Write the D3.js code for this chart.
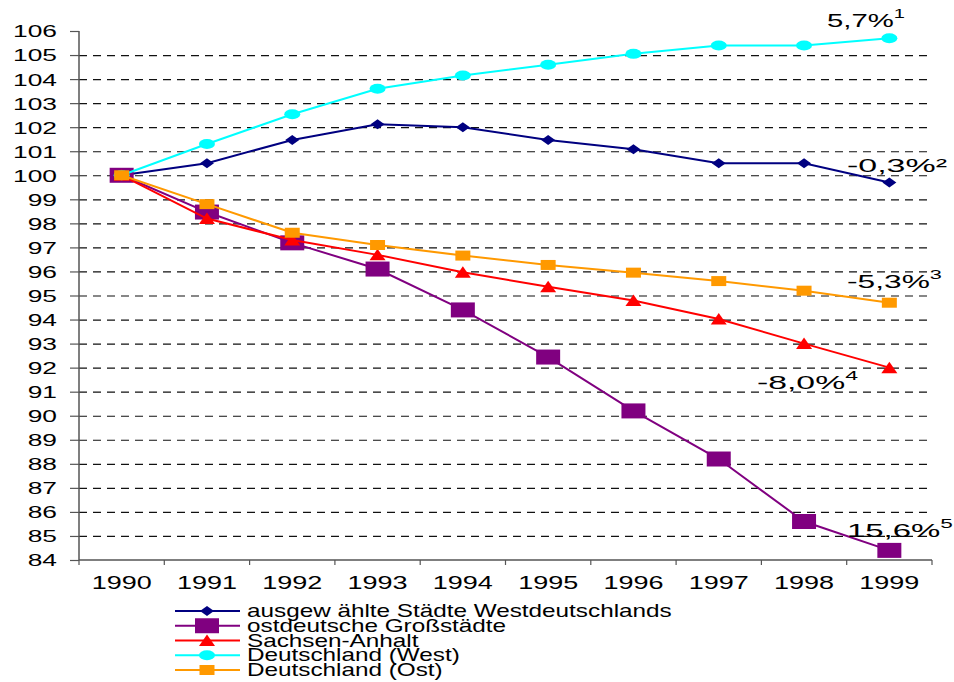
<!DOCTYPE html>
<html>
<head>
<meta charset="utf-8">
<script src="https://cdn.jsdelivr.net/npm/d3@7"></script>
<style>
  body { margin: 0; background: #fff; }
  text { font-family: "Liberation Sans", Arial, sans-serif; fill: #000; }
</style>
</head>
<body>
<svg id="chart" width="954" height="682"></svg>
<script>
// Index 1990 = 100
const years = [1990, 1991, 1992, 1993, 1994, 1995, 1996, 1997, 1998, 1999];
const westStaedte   = [100, 100.5, 101.47, 102.12, 102.0, 101.47, 101.08, 100.5, 100.5, 99.7];
const ostGrossstaedte = [100, 98.47, 97.19, 96.1, 94.4, 92.44, 90.2, 88.2, 85.6, 84.4];
const sachsenAnhalt = [100, 98.2, 97.31, 96.69, 95.97, 95.36, 94.79, 94.02, 93.0, 92.0];
const deWest        = [100, 101.3, 102.54, 103.6, 104.15, 104.6, 105.05, 105.4, 105.4, 105.7];
const deOst         = [100, 98.8, 97.61, 97.1, 96.66, 96.27, 95.95, 95.6, 95.2, 94.7];

const seriesNames = [
  "ausgew ählte Städte Westdeutschlands",
  "ostdeutsche Großstädte",
  "Sachsen-Anhalt",
  "Deutschland (West)",
  "Deutschland (Ost)"
];
const seriesValues = [westStaedte, ostGrossstaedte, sachsenAnhalt, deWest, deOst];
const seriesColors = ["#000080", "#800080", "#ff0000", "#00ffff", "#ff9900"];
const seriesMarkers = ["diamond", "bigSquare", "triangle", "ellipse", "square"];

// end-of-line change labels and their footnote marks
const noteTexts = ["5,7%", "-0,3%²", "-5,3%", "-8,0%", "15,6%"];
const noteMarks = ["1", "", "3", "4", "5"];

const yMin = 84, yMax = 106;
const yTickValues = d3.range(yMin, yMax + 1);

// ---- layout ----
const L = 79, R = 932, T = 31, B = 560;
const svg = d3.select("#chart");

const x = d3.scaleBand().domain(years).range([L, R]).padding(0);
const cx = d => x(d) + x.bandwidth() / 2;
const y = d3.scaleLinear().domain([yMin, yMax]).range([B, T]);

// dashed horizontal grid
const grid = svg.append("g").attr("transform", `translate(${L},0)`)
  .call(d3.axisLeft(y).tickValues(yTickValues.filter(v => v > yMin && v < yMax))
    .tickSize(-(R - L)).tickFormat(""));
grid.select(".domain").remove();
grid.selectAll("line")
  .attr("stroke", "#111").attr("stroke-width", 1.2).attr("stroke-dasharray", "8,6");

// y axis
const yAxis = svg.append("g").attr("transform", `translate(${L},0)`)
  .call(d3.axisLeft(y).tickValues(yTickValues).tickSize(9).tickFormat(d3.format("d")));
yAxis.select(".domain").attr("stroke", "#555").attr("stroke-width", 1.5).attr("d", `M0,${T}V${B}`);
yAxis.selectAll(".tick line").attr("stroke", "#555").attr("stroke-width", 1.2);
const ySx = 1.55;
yAxis.selectAll(".tick text")
  .attr("font-size", 17).attr("font-family", null)
  .attr("x", -22 / ySx).attr("dy", "0.35em")
  .attr("transform", `scale(${ySx},1)`);

// x axis: labels centred in categories, ticks on category boundaries
const xAxis = svg.append("g").attr("transform", `translate(0,${B})`)
  .call(d3.axisBottom(x).tickSize(0));
xAxis.select(".domain").attr("stroke", "#555").attr("stroke-width", 1.5).attr("d", `M${L},0H${R}`);
const xSx = 1.5;
xAxis.selectAll(".tick text")
  .attr("font-size", 18).attr("font-family", null)
  .attr("y", 29).attr("dy", 0)
  .attr("transform", `scale(${xSx},1)`);
xAxis.selectAll(".boundary")
  .data(years.map(d => x(d)).concat([R]))
  .join("line").attr("class", "boundary")
  .attr("x1", d => d).attr("x2", d => d).attr("y1", 0).attr("y2", 5)
  .attr("stroke", "#555").attr("stroke-width", 1.2);

// marker shapes
function markerPath(type) {
  switch (type) {
    case "diamond":   return "M-7,0L0,-5L7,0L0,5Z";
    case "bigSquare": return "M-12,-7.5H12V7.5H-12Z";
    case "triangle":  return "M-8,5.5L0,-6L8,5.5Z";
    case "square":    return "M-7.5,-5H7.5V5H-7.5Z";
    case "ellipse":   return "M-8,0A8,5 0 1,0 8,0A8,5 0 1,0 -8,0Z";
  }
}

const line = d3.line().x((d, i) => cx(years[i])).y(d => y(d));

seriesValues.forEach((vals, s) => {
  const g = svg.append("g");
  g.append("path").datum(vals)
    .attr("d", line).attr("fill", "none")
    .attr("stroke", seriesColors[s]).attr("stroke-width", 2);
  g.selectAll("path.m").data(vals).join("path").attr("class", "m")
    .attr("d", markerPath(seriesMarkers[s]))
    .attr("transform", (d, i) => `translate(${cx(years[i])},${y(d)})`)
    .attr("fill", seriesColors[s]);
});

// stretch text horizontally so it spans a given width
function fitText(node, left, baseline, width) {
  const len = node.getComputedTextLength();
  d3.select(node).attr("x", 0).attr("y", 0)
    .attr("transform", `translate(${left},${baseline}) scale(${width / len},1)`);
}

// end-of-line labels
const noteLayout = [
  { left: 827, base: 27,  w: 78 },
  { left: 847, base: 172, w: 100 },
  { left: 847, base: 288, w: 95 },
  { left: 757, base: 389, w: 101 },
  { left: 847, base: 537, w: 106 }
];
noteTexts.forEach((t, i) => {
  const tx = svg.append("text").attr("font-size", 19);
  tx.append("tspan").text(t);
  if (noteMarks[i]) tx.append("tspan").attr("font-size", 13).attr("dy", -9).text(noteMarks[i]);
  fitText(tx.node(), noteLayout[i].left, noteLayout[i].base, noteLayout[i].w);
});

// legend
const legend = svg.append("g");
const rowY = i => 611 + i * 14.75;
let legendSx = null;
seriesNames.forEach((name, i) => {
  const yy = rowY(i);
  legend.append("line").attr("x1", 175).attr("x2", 240).attr("y1", yy).attr("y2", yy)
    .attr("stroke", seriesColors[i]).attr("stroke-width", 2);
  legend.append("path").attr("d", markerPath(seriesMarkers[i]))
    .attr("transform", `translate(207,${yy})`).attr("fill", seriesColors[i]);
  const t = legend.append("text").attr("font-size", 17.5).text(name);
  if (legendSx === null) legendSx = 425 / t.node().getComputedTextLength();
  t.attr("x", 0).attr("y", 0)
    .attr("transform", `translate(247,${yy + 6}) scale(${legendSx},1)`);
});
</script>
</body>
</html>
